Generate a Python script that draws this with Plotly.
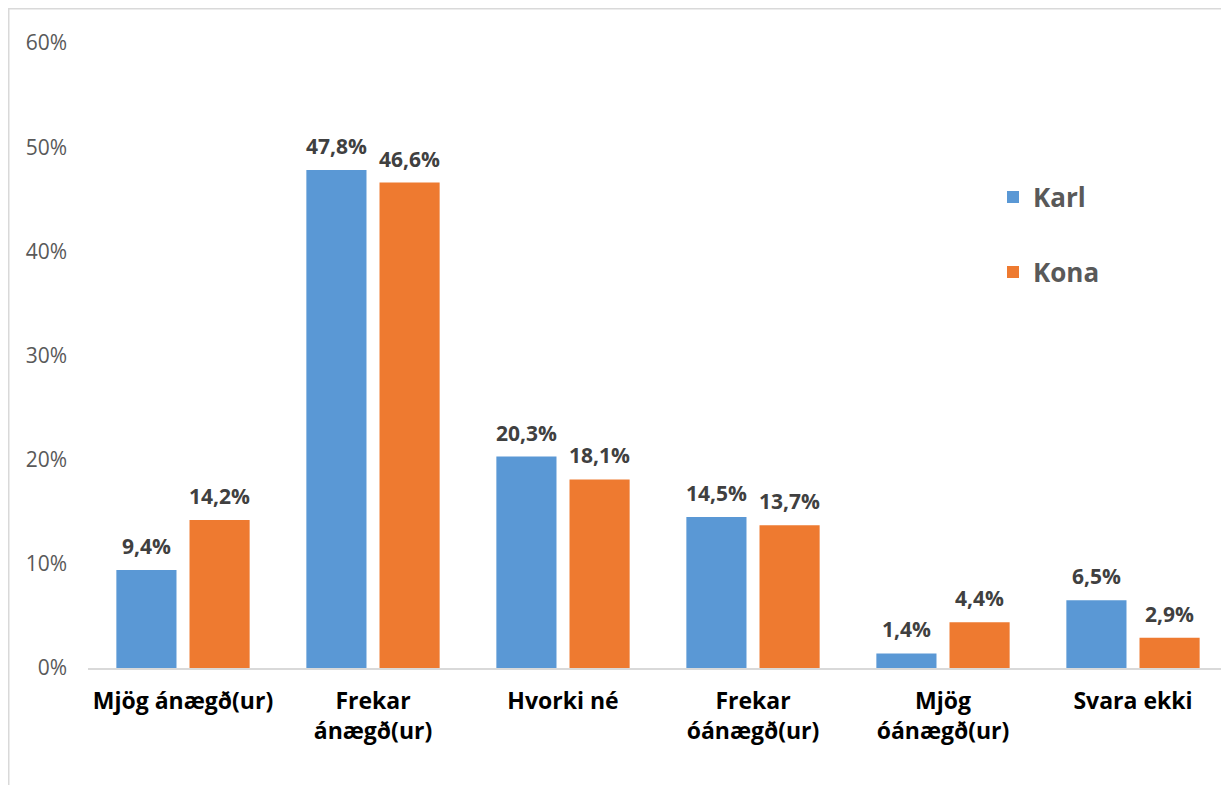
import plotly.graph_objects as go

categories = ["Mjög ánægð(ur)", "Frekar<br>ánægð(ur)", "Hvorki né", "Frekar<br>óánægð(ur)", "Mjög<br>óánægð(ur)", "Svara ekki"]
karl = [0.094, 0.478, 0.203, 0.145, 0.014, 0.065]
kona = [0.142, 0.466, 0.181, 0.137, 0.044, 0.029]
series_names = ["Karl", "Kona"]
tick_vals = [0, 0.1, 0.2, 0.3, 0.4, 0.5, 0.6]

BLUE = "#5A98D5"
ORANGE = "#EE7A30"
FONT = "Open Sans"

def fmt(v):
    return f"{v*100:.1f}%".replace(".", ",")

fig = go.Figure()
fig.add_trace(go.Bar(x=categories, y=karl, name=series_names[0], marker=dict(color=BLUE, line=dict(width=0)), legend="legend"))
fig.add_trace(go.Bar(x=categories, y=kona, name=series_names[1], marker=dict(color=ORANGE, line=dict(width=0)), legend="legend2"))

annotations = []
for vals, shift in ((karl, -36.6), (kona, 36.6)):
    for c, v in zip(categories, vals):
        annotations.append(dict(x=c, y=v, xref="x", yref="y", text=fmt(v), showarrow=False,
                                xshift=shift, yshift=8, yanchor="bottom",
                                font=dict(family=FONT, size=21, color="#404040", weight="bold")))

W_PLOT = 1140
H_PLOT = 625
L = 80
T = 35
shapes = [dict(type="rect", xref="paper", yref="paper",
               x0=(0.75 - L) / W_PLOT, x1=1.05, y0=-0.4, y1=1 + (T - 0.75) / H_PLOT,
               line=dict(color="#D9D9D9", width=1.5), fillcolor="rgba(0,0,0,0)", layer="below")]

fig.update_layout(
    width=1221, height=777,
    margin=dict(l=L, r=1, t=T, b=117),
    paper_bgcolor="white", plot_bgcolor="white",
    barmode="group", bargap=0.23, bargroupgap=0.178,
    font=dict(family=FONT),
    showlegend=True,
    legend=dict(x=(985 - L) / W_PLOT, y=(660 - 189) / H_PLOT, xanchor="left", yanchor="middle",
                bgcolor="rgba(0,0,0,0)", font=dict(family=FONT, size=26, color="#595959", weight="bold")),
    legend2=dict(x=(985 - L) / W_PLOT, y=(660 - 264) / H_PLOT, xanchor="left", yanchor="middle",
                 bgcolor="rgba(0,0,0,0)", font=dict(family=FONT, size=26, color="#595959", weight="bold")),
    annotations=annotations,
    shapes=shapes,
    xaxis=dict(showline=True, linecolor="#D9D9D9", linewidth=1.5, ticks="", showgrid=False,
               tickfont=dict(family=FONT, size=23, color="black", weight="bold"),
               ticklabelstandoff=12),
    yaxis=dict(range=[0, 0.6], tickvals=tick_vals, tickformat=".0%", showgrid=False, zeroline=False,
               showline=False, ticks="", tickfont=dict(family=FONT, size=21, color="#595959"),
               ticklabelstandoff=20),
)

fig.write_html("out.html")
